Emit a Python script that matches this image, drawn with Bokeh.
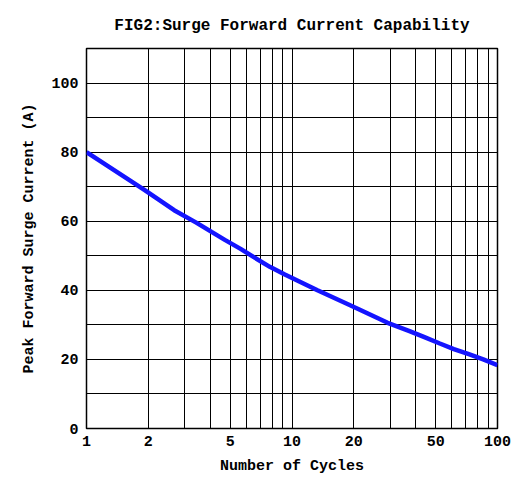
from bokeh.plotting import figure
from bokeh.models import FixedTicker, ColumnDataSource
from bokeh.embed import file_html
from bokeh.resources import INLINE

cycles = [1, 1.92, 2.67, 3.42, 4.06, 4.71, 5.62, 6.52, 7.8, 9.23, 13.3, 19.3, 21.0, 29.2, 37.3, 43.8, 52.4, 61.3, 72.5, 85.2, 100]
current = [80, 69, 63.2, 59.6, 56.9, 54.6, 52, 49.6, 46.8, 44.6, 40, 35.6, 34.6, 30.6, 28.2, 26.5, 24.6, 23, 21.5, 20, 18.3]

x_major = [1, 2, 5, 10, 20, 50, 100]
x_minor = [3, 4, 6, 7, 8, 9, 30, 40, 60, 70, 80, 90]
y_major = [0, 20, 40, 60, 80, 100]
y_minor = [10, 30, 50, 70, 90]
title_text = "FIG2:Surge Forward Current Capability"

FONT = "Liberation Mono"

p = figure(width=523, height=478, x_axis_type="log", x_range=(1, 100), y_range=(0, 110),
           output_backend="svg", toolbar_location=None, title=title_text,
           min_border_left=86, min_border_right=26, min_border_top=48, min_border_bottom=50)

p.title.align = "center"
p.title.text_font = FONT
p.title.text_font_size = "16px"
p.title.text_font_style = "bold"
p.title.text_color = "black"
p.title.standoff = 28

src = ColumnDataSource(dict(x=cycles, y=current))
p.line("x", "y", source=src, line_color="#1414ff", line_width=4.5)

p.xaxis.ticker = FixedTicker(ticks=x_major, minor_ticks=x_minor)
p.yaxis.ticker = FixedTicker(ticks=y_major, minor_ticks=y_minor)
p.xaxis.major_label_overrides = {1: "1", 2: "2", 5: "5", 10: "10", 20: "20", 50: "50", 100: "100"}

for ax in (p.xaxis, p.yaxis):
    ax.major_tick_line_color = None
    ax.minor_tick_line_color = None
    ax.axis_line_color = None
    ax.major_label_text_font = FONT
    ax.major_label_text_font_style = "bold"
    ax.major_label_text_font_size = "15px"
    ax.major_label_text_color = "black"
    ax.axis_label_text_font = FONT
    ax.axis_label_text_font_style = "bold"
    ax.axis_label_text_font_size = "15px"
    ax.axis_label_text_color = "black"

p.xaxis.axis_label = "Number of Cycles"
p.yaxis.axis_label = "Peak Forward Surge Current (A)"
p.xaxis.major_label_standoff = 1
p.yaxis.major_label_standoff = 2
p.xaxis.axis_label_standoff = 9
p.yaxis.axis_label_standoff = 10

for g in (p.xgrid, p.ygrid):
    g.grid_line_color = "black"
    g.grid_line_width = 1
    g.grid_line_alpha = 1
    g.minor_grid_line_color = "black"
    g.minor_grid_line_width = 1

p.outline_line_color = "black"
p.outline_line_width = 1.5
p.background_fill_color = "white"
p.border_fill_color = "white"

open("out.html", "w").write(file_html(p, INLINE))
